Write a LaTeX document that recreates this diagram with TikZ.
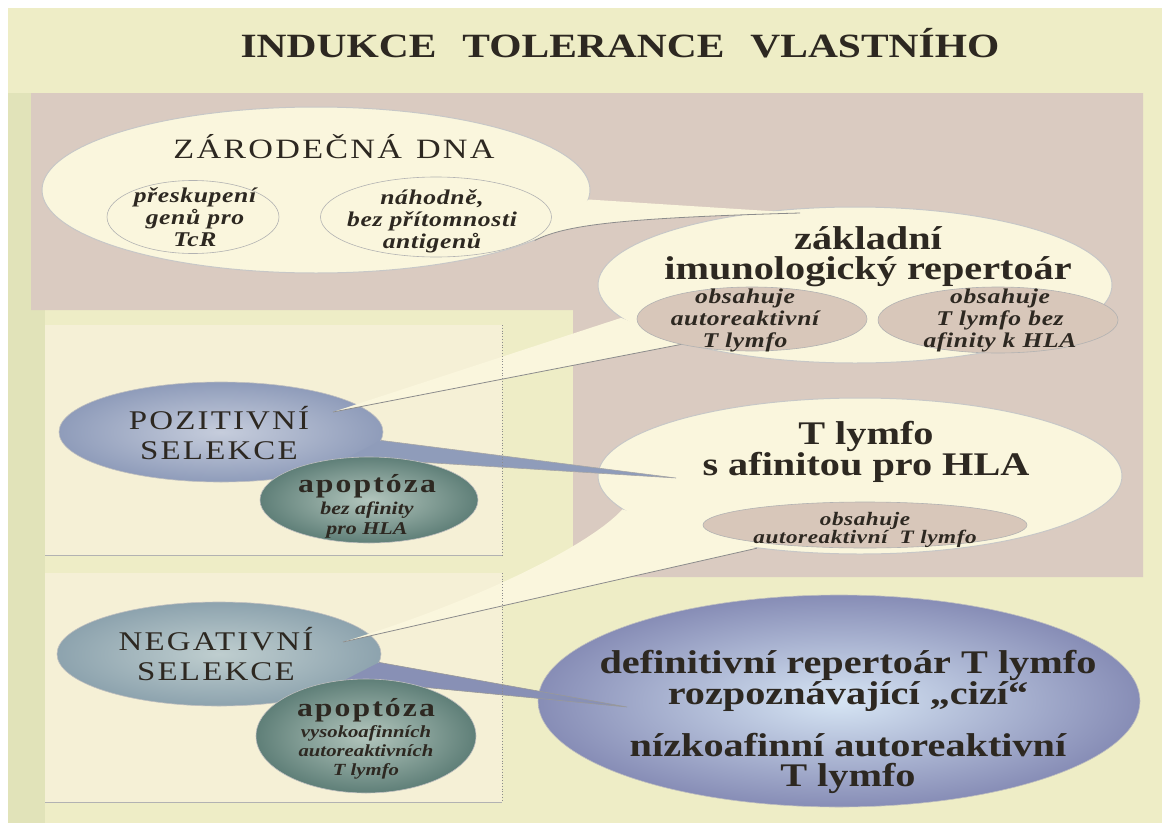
\documentclass[tikz,border=0pt]{standalone}
\usepackage{fontspec}
\setmainfont{Liberation Serif}[FakeStretch=1.22]
\usetikzlibrary{shapes.geometric, positioning}
\definecolor{bgYellow}{HTML}{EEEDC6}
\definecolor{bgStripe}{HTML}{E1E3B9}
\definecolor{bgPink}{HTML}{DACBC1}
\definecolor{boxCream}{HTML}{F5F0D6}
\definecolor{ellCream}{HTML}{FAF6DD}
\definecolor{subPink}{HTML}{D8C7BA}
\definecolor{pozBlue}{HTML}{8F9CBA}
\definecolor{pozLight}{HTML}{C6CDDC}
\definecolor{apoGreen}{HTML}{5F7F78}
\definecolor{apoLight}{HTML}{B3C6BD}
\definecolor{negBlue}{HTML}{8DA3AE}
\definecolor{negLight}{HTML}{BFCECF}
\definecolor{defBlue}{HTML}{878DB6}
\definecolor{defLight}{HTML}{D6E5F4}
\definecolor{txtDark}{HTML}{2D2821}
\pgfdeclarelayer{back}
\pgfdeclarelayer{tails}
\pgfsetlayers{back,tails,main}

\begin{document}
\begin{tikzpicture}[x=1pt, y=-1pt,
    bubble/.style={ellipse, inner sep=0pt, fill=ellCream, draw=black!22, line width=1pt},
    subbubble/.style={ellipse, inner sep=0pt, fill=subPink, draw=black!30, line width=0.6pt},
    linebubble/.style={ellipse, inner sep=0pt, draw=black!30, line width=0.6pt},
    selbubble/.style={ellipse, inner sep=0pt, draw=black!25, line width=0.6pt, shade, shading=radial},
    tailcream/.style={fill=ellCream},
    tailedge/.style={draw=black!45, line width=0.8pt},
    txt/.style={align=center, text=txtDark, inner sep=0pt},
    titletxt/.style={txt, font=\fontsize{34}{36}\selectfont\bfseries},
    capstxt/.style={txt, font=\fontsize{27}{30}\selectfont\addfontfeature{LetterSpace=8}},
    bigtxt/.style={txt, font=\fontsize{33}{30}\selectfont\bfseries},
    smalltxt/.style={txt, font=\fontsize{21}{22}\selectfont\bfseries\itshape\addfontfeature{LetterSpace=3}},
    apoptxt/.style={txt, font=\fontsize{18}{20}\selectfont\bfseries\itshape},
  ]
  \useasboundingbox (0,0) rectangle (1162,827);

  \begin{pgfonlayer}{back}
    % page and panels
    \fill[white] (0,0) rectangle (1162,827);
    \fill[bgYellow] (8,8) rectangle (1162,823);
    \fill[bgStripe] (8,93) rectangle (45,823);
    \fill[bgPink] (31,93) -- (1143,93) -- (1143,577) -- (573,577) -- (573,310) -- (31,310) -- cycle;
    \fill[boxCream] (45,325) rectangle (502,555);
    \fill[boxCream] (45,573) rectangle (502,802);

    % main bubbles
    \node[selbubble, inner color=defLight, outer color=defBlue, minimum width=602pt, minimum height=212pt] (defin) at (839,701) {};
    \node[bubble, minimum width=524pt, minimum height=156pt] (tlymfo) at (860,476) {};
    \node[bubble, minimum width=514pt, minimum height=156pt] (zakl) at (855,285) {};
    \node[bubble, minimum width=548pt, minimum height=166pt] (zarod) at (316,190) {};
    \node[selbubble, inner color=pozLight, outer color=pozBlue, minimum width=324pt, minimum height=100pt] (poz) at (221,432) {};
    \node[selbubble, inner color=negLight, outer color=negBlue, minimum width=324pt, minimum height=104pt] (neg) at (219,654) {};
  \end{pgfonlayer}

  % inner bubbles
  \node[linebubble, minimum width=172pt, minimum height=73pt] (zsubA) at (193,217) {};
  \node[linebubble, minimum width=231pt, minimum height=80pt] (zsubB) at (436,217) {};
  \node[subbubble, minimum width=230pt, minimum height=64pt] (ksubA) at (752,319) {};
  \node[subbubble, minimum width=240pt, minimum height=66pt] (ksubB) at (998,320) {};
  \node[subbubble, minimum width=324pt, minimum height=46pt] (tsub) at (865,525) {};
  \node[selbubble, inner color=apoLight, outer color=apoGreen, minimum width=218pt, minimum height=86pt] (apopA) at (369,500) {};
  \node[selbubble, inner color=apoLight, outer color=apoGreen, minimum width=220pt, minimum height=114pt] (apopB) at (366,736) {};

  % callout tips
  \coordinate (tipZ) at (800,213);
  \coordinate (tipK) at (333,412);
  \coordinate (tipT) at (343,642);
  \coordinate (tipP) at (676,478);
  \coordinate (tipN) at (627,707);

  \begin{pgfonlayer}{tails}
    \fill[tailcream] (zarod.-2) -- (tipZ) .. controls (620,218) and (565,225) .. (zarod.-13) -- cycle;
    \draw[tailedge] (tipZ) .. controls (620,218) and (565,225) .. (zarod.-13);
    \fill[tailcream] (zakl.188) -- (tipK) -- (zakl.199) -- cycle;
    \draw[tailedge] (tipK) -- (zakl.199);
    \fill[tailcream] (tlymfo.188) .. controls (590,545) and (480,600) .. (tipT) -- (tlymfo.215) -- cycle;
    \draw[tailedge] (tipT) -- (tlymfo.215);
    \fill[pozBlue] (poz.-3) -- (tipP) -- (apopA.35) -- (poz.-22) -- cycle;
    \draw[draw=black!35, line width=0.6pt] (poz.-3) -- (tipP) -- (apopA.35);
    \fill[defBlue!85!negBlue] (neg.-3) -- (tipN) -- (apopB.40) -- (neg.-25) -- cycle;
    \draw[draw=black!40, line width=0.6pt] (neg.-3) -- (tipN) -- (apopB.40);
  \end{pgfonlayer}

  % panel edges
  \draw[black!45, dotted, line width=0.8pt] (502,325) -- (502,555);
  \draw[black!30, line width=0.8pt] (45,555) -- (502,555);
  \draw[black!45, dotted, line width=0.8pt] (502,573) -- (502,802);
  \draw[black!30, line width=0.8pt] (45,802) -- (502,802);

  % texts
  \node[titletxt] (title) at (620,43) {INDUKCE\hspace{26pt}TOLERANCE\hspace{26pt}VLASTNÍHO};
  \node[capstxt, font=\fontsize{28}{30}\selectfont\addfontfeature{LetterSpace=8}] (zarodT) at (334,147) {ZÁRODEČNÁ\hspace{14pt}DNA};
  \node[smalltxt] (zsubAT) at (195,217) {přeskupení\\genů pro\\TcR};
  \node[smalltxt] (zsubBT) at (432,221) {náhodně,\\bez přítomnosti\\antigenů};
  \node[bigtxt] (zaklT) at (868,257) {základní\\imunologický repertoár};
  \node[smalltxt] (ksubAT) at (745,320) {obsahuje\\autoreaktivní\\T lymfo};
  \node[smalltxt] (ksubBT) at (1000,320) {obsahuje\\T lymfo bez\\afinity k HLA};
  \node[bigtxt] (tlymfoT) at (866,452) {T lymfo\\s afinitou pro HLA};
  \node[smalltxt, font=\fontsize{19}{17}\selectfont\bfseries\itshape\addfontfeature{LetterSpace=3}] (tsubT) at (865,530) {obsahuje\\autoreaktivní\hspace{12pt}T lymfo};
  \node[capstxt] (pozT) at (219,433) {POZITIVNÍ\\SELEKCE};
  \node[capstxt] (negT) at (216,654) {NEGATIVNÍ\\SELEKCE};
  \node[apoptxt] (apopAT) at (367,506) {{\fontsize{26}{22}\selectfont\upshape\addfontfeature{LetterSpace=8}apoptóza}\\[2pt]
    bez afinity\\pro HLA};
  \node[apoptxt, font=\fontsize{17}{19}\selectfont\bfseries\itshape] (apopBT) at (366,739) {{\fontsize{26}{22}\selectfont\upshape\addfontfeature{LetterSpace=8}apoptóza}\\[2pt]
    vysokoafinních\\autoreaktivních\\T lymfo};
  \node[bigtxt] (definT) at (848,722) {definitivní repertoár T lymfo\\rozpoznávající „cizí“\\[20pt]nízkoafinní autoreaktivní\\T lymfo};
\end{tikzpicture}
\end{document}
